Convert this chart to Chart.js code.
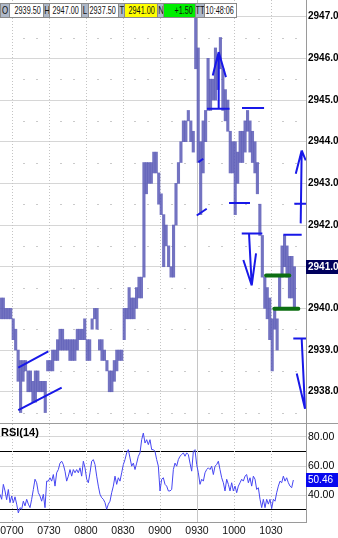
<!DOCTYPE html>
<html><head><meta charset="utf-8">
<script src="https://cdn.jsdelivr.net/npm/chart.js@4.4.1/dist/chart.umd.min.js"></script>
<style>
html,body{margin:0;padding:0;background:#fff;width:338px;height:538px;overflow:hidden;position:relative;}
canvas{position:absolute;left:0;}
#pc{top:0;}
#rc{top:424px;}
#sep{position:absolute;left:0;top:423px;width:338px;height:1px;background:#9c9c9c;}
.c{position:absolute;top:3px;height:15px;box-sizing:border-box;border:1px solid #8a8a8a;font:11px 'Liberation Sans',Arial,sans-serif;line-height:13px;color:#111;white-space:nowrap;overflow:hidden;}
.c span{position:absolute;top:0;}
.k{background:#aeb8c8;}
.k span{left:50%;transform:translateX(-50%) scaleX(0.72);}
.v{background:#fff;}
.v span{right:2px;transform:scaleX(0.66);transform-origin:right center;}
</style></head>
<body>
<canvas id="pc" width="338" height="423"></canvas>
<canvas id="rc" width="338" height="114"></canvas>
<div id="sep"></div>
<div id="hdr"></div>
<script>
// ---------- data ----------
const quoteLabels = ['O', 'H', 'L', 'T', 'N', 'TT'];
const quoteValues = ['2939.50', '2947.00', '2937.50', '2941.00', '+1.50', '10:48:06'];
const timeTicks = [420, 450, 480, 510, 540, 570, 600, 630];      // 0700 ... 1030 (minutes after midnight)
const sessionLine = 570;                                          // 0930 solid line
const priceTicks = [2938, 2939, 2940, 2941, 2942, 2943, 2944, 2945, 2946, 2947];
const rsiTicks = [30, 40, 60, 70, 80];
const rsiBands = [30, 70];
const barStart = 411;   // first 2-minute bar (06:51)
const barStep = 2;
const barHigh = [
 2940.25,2940.25,2940.0,2940.0,2940.0,2939.75,2939.5,2939.0,2938.75,2938.75,
 2938.75,2938.5,2938.5,2938.25,2938.5,2938.5,2938.25,2938.25,2938.25,2938.75,
 2938.75,2939.0,2939.0,2939.25,2939.5,2939.5,2939.25,2939.25,2939.25,2939.25,
 2939.25,2939.5,2939.5,2939.5,2939.75,2939.25,2939.25,2939.75,2940.0,2940.0,
 2939.25,2939.25,2939.0,2938.75,2938.5,2938.5,2938.75,2939.0,2939.0,2939.0,
 2940.0,2940.0,2940.5,2940.25,2940.25,2940.5,2940.75,2940.75,2943.5,2943.5,
 2943.5,2943.5,2943.75,2943.75,2943.25,2942.75,2942.25,2942.0,2941.5,2941.0,
 2942.0,2943.0,2943.5,2944.0,2944.5,2944.5,2944.75,2944.5,2944.25,2947.0,
 2946.25,2944.0,2944.5,2944.75,2946.0,2945.5,2945.5,2946.25,2946.0,2946.5,
 2945.75,2945.25,2945.0,2944.25,2944.0,2944.0,2943.75,2944.25,2944.25,2944.5,
 2944.75,2944.5,2944.25,2944.0,2943.5,2942.5,2941.75,2940.75,2940.5,2940.25,
 2939.75,2940.0,2939.75,2940.75,2941.5,2941.75,2941.5,2941.25,2941.25,2941.0];
const barLow = [
 2939.75,2939.75,2939.75,2939.75,2939.75,2939.25,2939.0,2938.25,2937.5,2938.25,
 2938.5,2938.0,2938.0,2937.75,2937.75,2938.0,2938.0,2938.0,2937.5,2938.5,
 2938.5,2938.5,2938.75,2938.75,2939.0,2939.0,2939.0,2939.0,2938.75,2938.75,
 2938.75,2939.0,2939.25,2939.25,2939.25,2938.75,2938.75,2939.5,2939.75,2939.5,
 2939.0,2938.75,2938.75,2938.5,2938.0,2938.0,2938.25,2938.5,2938.75,2938.75,
 2939.25,2939.75,2939.75,2939.75,2939.75,2940.0,2940.25,2940.25,2940.75,2942.75,
 2943.0,2943.0,2943.25,2943.25,2942.5,2942.25,2941.0,2941.5,2941.0,2940.75,
 2940.75,2942.0,2943.0,2943.5,2944.0,2944.0,2944.5,2944.0,2943.75,2945.75,
 2943.5,2942.25,2943.25,2944.0,2944.75,2944.75,2945.0,2945.0,2945.25,2945.75,
 2944.75,2944.5,2944.25,2943.25,2943.25,2942.25,2943.0,2943.5,2943.5,2943.75,
 2944.25,2943.75,2943.5,2943.25,2942.75,2941.75,2940.75,2940.0,2939.75,2939.25,
 2938.5,2939.5,2939.0,2940.0,2940.75,2941.0,2940.75,2940.25,2940.25,2940.0];
const lastPrice = 2941.00;
const rsiStart = 410.3;
const rsiStep = 1.3514;
const rsiValues = [
 40.7,37.3,47.5,43,37,44,35,39.5,35,39,34,28,31.6,30.5,36,32.8,37.3,34,31.6,37.3,
 44,51,48.6,41.8,39.5,36,40.7,31.6,49.7,49.7,52,49.7,54.2,46.3,55.4,57.6,62,63.3,61,56.5,
 49.7,53.1,57.6,53.1,57.6,55.4,57.6,55.4,58.8,53.1,63.3,58.8,51,48.6,55.4,63.3,64.4,61,53.1,46.3,
 40.7,38.4,37.3,35,30.5,34,36,41.8,46.3,53.1,47.5,52,49.7,55.4,61,64.4,69,71.2,65.5,59.9,
 62,57.6,62,66.7,69,78,82.5,75.7,78,74.6,78,71.2,71.2,70,64.4,59.9,43,51,52,47.5,
 46.3,43,43,44,57.6,62,59.9,64.4,66.7,67.8,69,66.7,69,67.8,62,56.5,70,71.2,61,55.4,
 47.5,51,49.7,55.4,57.6,58.8,57.6,59.9,54.2,59.9,61,63.3,57.6,52,48.6,43,51,47.5,43,48.6,
 43,46.3,41.8,46.3,48.6,51,49.7,53.1,54.2,48.6,52,46.3,53.1,51,44,45.2,37.3,31.6,37.3,31.6,
 37.3,34,37.3,31,37.3,36,41.8,46.3,49.7,48.6,53.1,49.7,52,48.6,46.3,45.2,50.46];
// user-drawn lines: [time1, price1, time2, price2]
const blueSegments = [
 [425.1,2938.58,449.5,2938.97],[425.1,2937.56,460.3,2938.10],
 [569.8,2942.23,577.9,2942.39],[571.2,2943.51,575.1,2943.59],
 [587.6,2946.15,587.6,2944.80],[582.8,2945.59,587.6,2946.15],[587.6,2946.15,593.5,2945.55],
 [578.1,2944.79,596.4,2944.79],[606.5,2944.81,624.4,2944.81],
 [596.0,2942.53,613.0,2942.53],[606.3,2941.80,623.0,2941.80],
 [612.2,2941.80,614.4,2940.55],[607.6,2941.16,614.4,2940.55],[614.4,2940.55,617.9,2941.32],
 [640.0,2941.77,654.9,2941.77],
 [654.1,2942.04,654.9,2943.79],[650.1,2943.23,654.9,2943.79],[654.9,2943.79,658.2,2943.55],
 [648.9,2942.51,658.4,2942.51],
 [648.1,2939.28,658.4,2939.28],[654.9,2939.27,657.6,2937.59],[650.9,2938.44,657.6,2937.59]];
const greenSegments = [[626.0,2940.79,644.9,2940.79],[632.7,2939.99,652.2,2939.99]];
const xMin = 410.3, xMax = 658.4;
const priceMin = 2937.25, priceMax = 2947.40;
const rsiMin = 21.8, rsiMax = 88.7;

// ---------- rendering ----------
const FONT = "'Liberation Sans',Arial,sans-serif";

// header cells
(function(){
  const hdr = document.getElementById('hdr');
  const pos = [[0,9,43],[43,49,81],[81,88,118],[118,124,157],[157,163,195],[195,204,236]];
  const bgs = ['#fff','#fff','#fff','#ffff00','#00ee00','#fff'];
  quoteLabels.forEach((lab,i)=>{
    const k=document.createElement('div'); k.className='c k';
    k.style.left=pos[i][0]+'px'; k.style.width=(pos[i][1]-pos[i][0]+1)+'px';
    const ks=document.createElement('span'); ks.textContent=lab; k.appendChild(ks); hdr.appendChild(k);
    const v=document.createElement('div'); v.className='c v';
    v.style.left=pos[i][1]+'px'; v.style.width=(pos[i][2]-pos[i][1]+1)+'px'; v.style.background=bgs[i];
    const vs=document.createElement('span'); vs.textContent=quoteValues[i]; v.appendChild(vs); hdr.appendChild(v);
  });
})();

const fmtTime = v => { const h=Math.floor(v/60), m=Math.round(v%60); return String(h).padStart(2,'0')+String(m).padStart(2,'0'); };
const segData = segs => { const out=[]; segs.forEach(s=>{ out.push({x:s[0],y:s[1]},{x:s[2],y:s[3]},{x:s[2],y:null}); }); return out; };

function gridDecor(minorLevels){
  return { id:'gridDecor', beforeDatasetsDraw(chart){
    const {ctx, chartArea:a, scales:{x,y}} = chart;
    ctx.save();
    ctx.beginPath(); ctx.rect(a.left,a.top,a.right-a.left,a.bottom-a.top); ctx.clip();
    ctx.lineWidth=1;
    timeTicks.forEach(t=>{
      const px=Math.round(x.getPixelForValue(t))+0.5;
      ctx.beginPath();
      ctx.strokeStyle = t===sessionLine ? '#c6c6c6' : '#c4c4c4';
      ctx.setLineDash(t===sessionLine ? [] : [1,2]);
      ctx.moveTo(px,a.top); ctx.lineTo(px,a.bottom); ctx.stroke();
    });
    ctx.setLineDash([]);
    ctx.fillStyle='#cacaca';
    for(let t=Math.ceil(xMin/10)*10; t<xMax; t+=10){
      if(t%30===0) continue;
      const px=Math.round(x.getPixelForValue(t));
      minorLevels.forEach(v=>{ const py=Math.round(y.getPixelForValue(v)); ctx.fillRect(px-1,py,2,1); });
    }
    ctx.restore();
  }};
}
function valueBox(value, text, bg, weight){
  return { id:'valueBox', afterDraw(chart){
    const {ctx} = chart; const ys=chart.scales.y;
    const py=Math.round(ys.getPixelForValue(value));
    ctx.save();
    ctx.fillStyle=bg; ctx.fillRect(ys.left, py-7, chart.width-ys.left, 14);
    ctx.fillStyle='#fff'; ctx.font=weight+' 10px '+FONT; ctx.textBaseline='middle'; ctx.textAlign='left';
    ctx.fillText(text, ys.left+2, py+0.5);
    ctx.restore();
  }};
}
const xScaleBase = {
  type:'linear', min:xMin, max:xMax, offset:false,
  afterBuildTicks: s => { s.ticks = timeTicks.map(v=>({value:v})); },
  grid:{display:false}, border:{display:false}
};

const halfLevels = priceTicks.map(v=>v-0.5).concat([2947.5]).filter(v=>v>priceMin&&v<priceMax);

new Chart(document.getElementById('pc'), {
  type:'bar',
  data:{ datasets:[
    { type:'line', data:segData(greenSegments), borderColor:'#0c6e12', borderWidth:4, borderCapStyle:'round', pointRadius:0, spanGaps:false, order:0 },
    { type:'line', data:segData(blueSegments), borderColor:'#1818e8', borderWidth:2, pointRadius:0, spanGaps:false, order:1 },
    { type:'bar', data:barHigh.map((h,i)=>({x:barStart+barStep*i, y:[barLow[i],h]})),
      backgroundColor:'rgba(90,90,182,0.85)', borderWidth:0, barPercentage:1, categoryPercentage:1, order:2 }
  ]},
  options:{
    responsive:false, animation:false, devicePixelRatio:1,
    layout:{padding:0},
    plugins:{legend:{display:false}, tooltip:{enabled:false}},
    scales:{
      x:{ ...xScaleBase, ticks:{display:false},
          afterFit: s => { s.height=0; s.paddingLeft=0; s.paddingRight=0; } },
      y:{ position:'right', min:priceMin, max:priceMax,
          afterBuildTicks: s => { s.ticks = priceTicks.map(v=>({value:v})); },
          ticks:{ padding:2, color:'#000', font:{family:FONT, size:10, weight:'bold'}, callback: v => v.toFixed(1) },
          grid:{ color:'#d6d6d6', drawTicks:false },
          border:{ color:'#9a9a9a', width:1 },
          afterFit: s => { s.width=32; s.paddingTop=0; s.paddingBottom=0; } }
    }
  },
  plugins:[gridDecor(halfLevels), valueBox(lastPrice, lastPrice.toFixed(1), '#00005c', 'bold')]
});

const rsiLast = rsiValues[rsiValues.length-1];
new Chart(document.getElementById('rc'), {
  type:'line',
  data:{ datasets:[
    { data:rsiValues.map((v,i)=>({x:rsiStart+rsiStep*i, y:v})), borderColor:'#4646f2', borderWidth:1, pointRadius:0, tension:0 }
  ]},
  options:{
    responsive:false, animation:false, devicePixelRatio:1,
    layout:{padding:0},
    plugins:{legend:{display:false}, tooltip:{enabled:false}},
    scales:{
      x:{ ...xScaleBase,
          border:{display:true, color:'#9a9a9a'},
          grid:{display:false, drawTicks:false},
          ticks:{ padding:3, color:'#111', maxRotation:0, autoSkip:false, font:{family:FONT, size:10.5}, callback: v => fmtTime(v) },
          afterFit: s => { s.height=16; s.paddingLeft=0; s.paddingRight=0; } },
      y:{ position:'right', min:rsiMin, max:rsiMax,
          afterBuildTicks: s => { s.ticks = rsiTicks.map(v=>({value:v})); },
          ticks:{ padding:2, color:'#000', font:{family:FONT, size:10.5}, callback: v => rsiBands.includes(v) ? '' : v.toFixed(2) },
          grid:{ drawTicks:false, color: c => rsiBands.includes(c.tick && c.tick.value) ? '#000' : '#d6d6d6' },
          border:{ color:'#9a9a9a', width:1 },
          afterFit: s => { s.width=32; s.paddingTop=0; s.paddingBottom=0; } }
    }
  },
  plugins:[gridDecor([]), valueBox(rsiLast, rsiLast.toFixed(2), '#0808ee', 'normal'),
    { id:'rsiTitle', afterDraw(chart){ const c=chart.ctx; c.save(); c.fillStyle='#000'; c.font='bold 11px '+FONT; c.textBaseline='middle'; c.fillText('RSI(14)', 1, 8.5); c.restore(); } }]
});
</script>
</body></html>
